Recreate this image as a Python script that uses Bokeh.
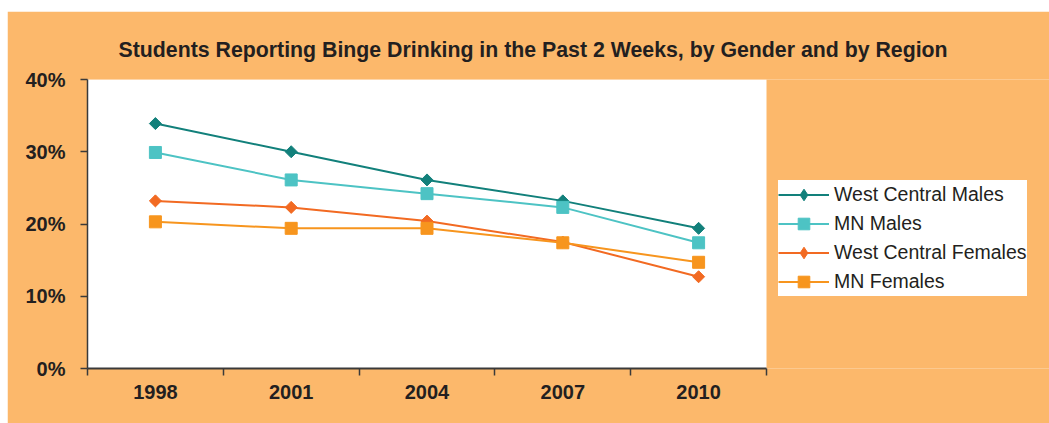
from bokeh.plotting import figure
from bokeh.models import (Range1d, FixedTicker, PrintfTickFormatter,
                          Legend, LegendItem, ColumnDataSource, Spacer, BoxAnnotation)
from bokeh.layouts import column, row
from bokeh.embed import file_html
from bokeh.resources import INLINE
import math

years = ["1998", "2001", "2004", "2007", "2010"]
wc_males = [33.9, 30.0, 26.1, 23.2, 19.4]
mn_males = [29.9, 26.1, 24.2, 22.3, 17.4]
wc_females = [23.2, 22.3, 20.4, 17.5, 12.7]
mn_females = [20.3, 19.4, 19.4, 17.4, 14.7]
y_ticks = [0, 10, 20, 30, 40]

series = [
    ("West Central Males", wc_males, "#12807B", "diamond"),
    ("MN Males", mn_males, "#4DC3C4", "square"),
    ("West Central Females", wc_females, "#F26A22", "diamond"),
    ("MN Females", mn_females, "#F7951E", "square"),
]

BG = "#FCB86B"
FONT = "Liberation Sans"

# plot area spans 679px of a 962px wide frame; the rest holds the legend
n = len(years)
x_end = n * 962 / 679

p = figure(width=1042, height=412, output_backend="svg", toolbar_location=None,
           x_range=Range1d(0, x_end), y_range=Range1d(0, 40),
           min_border_left=80, min_border_right=0, min_border_top=68,
           min_border_bottom=55)
p.border_fill_color = BG
p.background_fill_color = BG
p.outline_line_color = None
p.grid.visible = False

p.add_layout(BoxAnnotation(left=0, right=n, bottom=0, top=40,
                           fill_color="white", fill_alpha=1, line_color=None,
                           level="underlay"))

p.title.text = "Students Reporting Binge Drinking in the Past 2 Weeks, by Gender and by Region"
p.title.text_font = FONT
p.title.text_font_size = "21.3px"
p.title.text_font_style = "bold"
p.title.text_color = "#231F20"
p.title.align = "left"
p.title.offset = 31
p.title.standoff = 36

xpos = [i + 0.5 for i in range(n)]

xa = p.xaxis[0]
xa.bounds = (0, n)
xa.ticker = FixedTicker(ticks=xpos, minor_ticks=list(range(n + 1)))
xa.major_label_overrides = {x: y for x, y in zip(xpos, years)}
xa.major_tick_out = 0
xa.major_tick_in = 0
xa.minor_tick_out = 7
xa.minor_tick_in = 0
xa.minor_tick_line_color = "#3A3A3A"
xa.minor_tick_line_width = 1.5
xa.axis_line_color = "#3A3A3A"
xa.axis_line_width = 2
xa.major_label_text_font = FONT
xa.major_label_text_font_size = "20px"
xa.major_label_text_font_style = "bold"
xa.major_label_text_color = "#231F20"
xa.major_label_standoff = 9

ya = p.yaxis[0]
ya.ticker = FixedTicker(ticks=y_ticks, minor_ticks=[])
ya.formatter = PrintfTickFormatter(format="%d%%")
ya.major_tick_out = 7
ya.major_tick_in = 0
ya.major_tick_line_color = "#3A3A3A"
ya.major_tick_line_width = 1.5
ya.axis_line_color = "#3A3A3A"
ya.axis_line_width = 1.5
ya.major_label_text_font = FONT
ya.major_label_text_font_size = "20px"
ya.major_label_text_font_style = "bold"
ya.major_label_text_color = "#231F20"
ya.major_label_standoff = 15

items = []
for name, vals, color, mk in series:
    src = ColumnDataSource(dict(x=xpos, y=vals))
    ln = p.line("x", "y", source=src, line_color=color, line_width=2)
    if mk == "diamond":
        p.scatter("x", "y", source=src, marker="square", size=8.5,
                  angle=math.pi / 4, fill_color=color, line_color=color)
        # legend-only diamond (hidden on the plot itself)
        lg = p.scatter("x", "y", source=src, marker="diamond", size=12,
                       fill_color=color, line_color=color, visible=False)
    else:
        lg = p.scatter("x", "y", source=src, marker="square", size=12,
                       fill_color=color, line_color=color)
    items.append(LegendItem(label=name, renderers=[ln, lg]))

legend = Legend(items=items, location=(691, 72), orientation="vertical",
                background_fill_color="white", background_fill_alpha=1,
                border_line_color=None, padding=10, spacing=0, margin=0,
                label_height=29, glyph_height=29, glyph_width=51,
                label_standoff=5, label_text_font=FONT,
                label_text_font_size="19.5px", label_text_color="#231F20",
                inactive_fill_alpha=0)
p.add_layout(legend, "center")

layout = column(Spacer(height=11), row(Spacer(width=7), p, spacing=0), spacing=0)

open("out.html", "w").write(file_html(layout, INLINE))
